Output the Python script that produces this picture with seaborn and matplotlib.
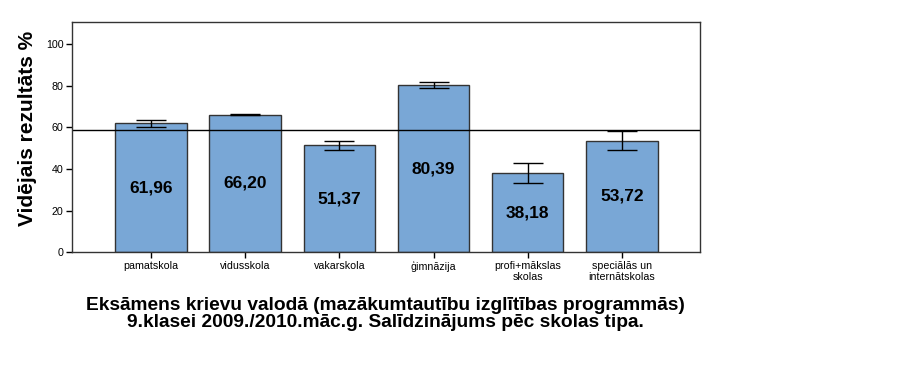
import matplotlib
matplotlib.use("Agg")
import matplotlib.pyplot as plt
import seaborn as sns
import pandas as pd

# chart data
school_types = ['pamatskola', 'vidusskola', 'vakarskola', 'ģimnāzija',
                'profi+mākslas\nskolas', 'speciālās un\ninternātskolas']
mean_scores = [61.96, 66.20, 51.37, 80.39, 38.18, 53.72]
err_half = [1.7, 0.4, 2.2, 1.6, 4.8, 4.6]
overall_mean = 58.8
value_labels = ['61,96', '66,20', '51,37', '80,39', '38,18', '53,72']

df = pd.DataFrame({'tips': school_types, 'rezultats': mean_scores})

sns.set_style("white")
plt.rcParams['font.family'] = ['Liberation Sans', 'DejaVu Sans']
plt.rcParams['text.color'] = 'black'
plt.rcParams['axes.labelcolor'] = 'black'
plt.rcParams['xtick.color'] = 'black'
plt.rcParams['ytick.color'] = 'black'

fig = plt.figure(figsize=(9.23, 3.67), dpi=100)
ax = fig.add_axes([72 / 923, (367 - 252.3) / 367, (700 - 72) / 923, (252.3 - 22) / 367])

sns.barplot(data=df, x='tips', y='rezultats', color='#79A7D6', saturation=1,
            edgecolor='#333333', linewidth=1, width=0.76, errorbar=None, ax=ax)

ax.errorbar(range(len(mean_scores)), mean_scores, yerr=err_half, fmt='none',
            ecolor='black', elinewidth=1, capsize=11, capthick=1)

for i, (v, lab) in enumerate(zip(mean_scores, value_labels)):
    ax.text(i, v / 2, lab, ha='center', va='center', fontsize=12.5,
            fontweight='bold', color='black')

ax.axhline(overall_mean, color='black', linewidth=1)

ax.set_xlim(-0.84, 5.83)
ax.set_ylim(0, 110.7)
ax.set_yticks([0, 20, 40, 60, 80, 100])
ax.tick_params(axis='both', direction='out', length=4, width=1, color='black',
               labelsize=7.7, pad=2, left=True, bottom=True)
for s in ax.spines.values():
    s.set_color('#333333')
    s.set_linewidth(1)

ax.set_xlabel('')
ax.set_ylabel('Vidējais rezultāts %', fontsize=15, fontweight='bold')
ax.yaxis.set_label_coords(-0.056, 0.54)

fig.text(385 / 923, 1 - 314 / 367,
         'Eksāmens krievu valodā (mazākumtautību izglītības programmās)\n'
         '9.klasei 2009./2010.māc.g. Salīdzinājums pēc skolas tipa.',
         ha='center', va='center', fontsize=13.8, fontweight='bold', linespacing=1.0)

fig.savefig('out.png', dpi=100)
